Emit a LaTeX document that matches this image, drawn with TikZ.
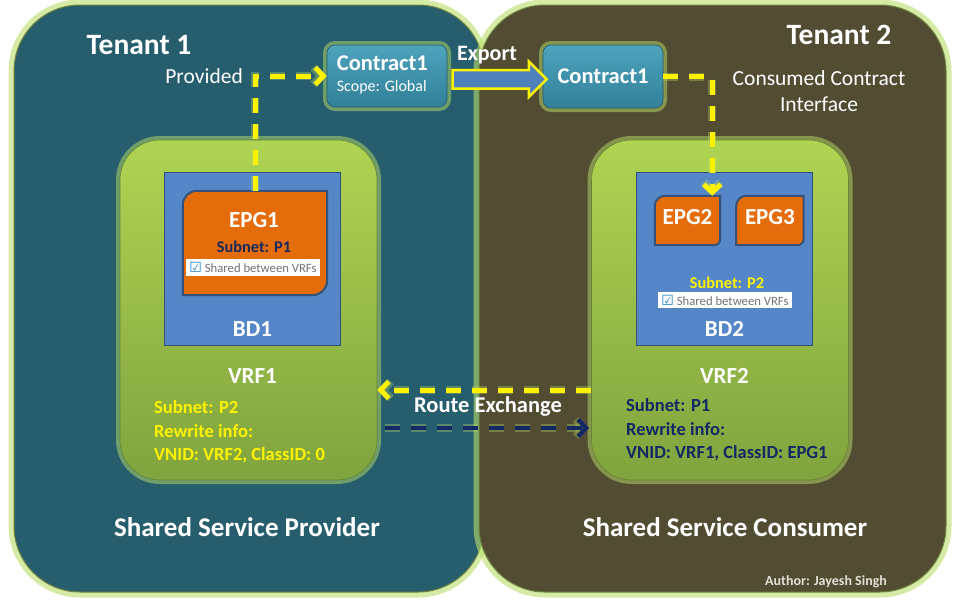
\documentclass[tikz,border=0pt]{standalone}
\usepackage{fontspec}
\setmainfont{Carlito}
\newfontfamily\dvsans{DejaVu Sans}
\usetikzlibrary{shapes,arrows.meta,positioning,calc}
\definecolor{tealbg}{RGB}{39,94,110}
\definecolor{olivebg}{RGB}{81,76,50}
\definecolor{halogreen}{RGB}{185,222,105}
\definecolor{ctop}{RGB}{78,163,189}
\definecolor{cbot}{RGB}{50,128,153}
\definecolor{vrftop}{RGB}{175,212,82}
\definecolor{vrfbot}{RGB}{128,164,62}
\definecolor{bdblue}{RGB}{84,134,200}
\definecolor{epgorange}{RGB}{228,108,10}
\definecolor{epgline}{RGB}{52,82,122}
\definecolor{navytxt}{RGB}{20,40,100}
\definecolor{expblue}{RGB}{79,129,189}
\definecolor{tickblue}{RGB}{30,130,200}
\definecolor{boxgray}{RGB}{115,115,115}
\definecolor{authgray}{RGB}{225,225,215}
\newcommand{\chk}{{\dvsans\fontsize{14}{14}\selectfont\textcolor{tickblue}{☑}}}

\begin{document}
\begin{tikzpicture}[x=1pt, y=-1pt]
    \tikzstyle{halo} = [preaction={draw=halogreen, line width=8pt, opacity=.5}]
    \tikzstyle{tenant} = [draw=halogreen!60!black, line width=1pt, rounded corners=66pt, inner sep=0pt, preaction={draw=halogreen, line width=11pt, opacity=.6}]
    \tikzstyle{vrf} = [rounded corners=40pt, top color=vrftop, bottom color=vrfbot, draw=vrfbot!80!black, line width=.6pt, halo, minimum width=257pt, minimum height=340pt]
    \tikzstyle{bd} = [fill=bdblue, draw=bdblue!60!black, line width=.8pt, minimum width=176pt, minimum height=173pt]
    \tikzstyle{epgframe} = [inner sep=0pt]
    \tikzstyle{epg} = [fill=epgorange, draw=epgline, line width=2pt]
    \tikzstyle{contract} = [rounded corners=8pt, top color=ctop, bottom color=cbot, draw=cbot!70!black, line width=.6pt, halo, text=white, inner sep=4pt]
    \tikzstyle{ttl} = [text=white, font=\fontsize{29.5}{32}\selectfont\bfseries, inner sep=0pt]
    \tikzstyle{foot} = [text=white, font=\fontsize{27}{30}\selectfont\bfseries, inner sep=0pt]
    \tikzstyle{note} = [text=white, font=\fontsize{21.5}{26}\selectfont, inner sep=0pt]
    \tikzstyle{epgtxt} = [text=white, font=\fontsize{23}{25}\selectfont\bfseries, inner sep=0pt]
    \tikzstyle{subtxt} = [font=\fontsize{16.3}{18}\selectfont\bfseries, inner sep=0pt]
    \tikzstyle{shared} = [fill=white, text=boxgray, font=\fontsize{12.7}{14}\selectfont, inner sep=1pt, minimum width=134pt, minimum height=17pt]
    \tikzstyle{vdet} = [font=\fontsize{18.5}{23.5}\selectfont\bfseries, align=left, inner sep=0pt, anchor=west]
    \tikzstyle{ylink} = [draw=yellow, line width=5pt, dash pattern=on 15pt off 11pt, -{Straight Barb[length=8pt,width=17pt]}, preaction={draw=halogreen, line width=8pt, opacity=.35, dash pattern=on 15pt off 11pt}]
    \tikzstyle{nlink} = [draw=navytxt, line width=4.5pt, dash pattern=on 15pt off 11pt, -{Straight Barb[length=8pt,width=17pt]}, preaction={draw=halogreen, line width=8pt, opacity=.35, dash pattern=on 15pt off 11pt}]

    \useasboundingbox (0,0) rectangle (960,600);
    \fill[white] (0,0) rectangle (960,600);

    % tenants
    \node[tenant, fill=tealbg, minimum width=470pt, minimum height=587pt] (t1) at (249,298.5) {};
    \node[tenant, fill=olivebg, minimum width=467pt, minimum height=587pt] (t2) at (712.5,298.5) {};
    \node[ttl] at (139,45) {Tenant 1};
    \node[ttl] at (839,35) {Tenant 2};
    \node[foot] at (247,527) {Shared Service Provider};
    \node[foot] at (725,527) {Shared Service Consumer};
    \node[text=authgray, font=\fontsize{14}{16}\selectfont\bfseries, inner sep=0pt] at (826,582) {Author: Jayesh Singh};

    % vrfs and bridge domains
    \node[vrf] (v1) at (248.5,310) {};
    \node[vrf] (v2) at (720,310) {};
    \node[bd] (b1) at (252.5,258.5) {};
    \node[bd] (b2) at (724.5,258.5) {};
    \node[epgtxt, above=9pt of b1.south] {BD1};
    \node[epgtxt, above=9pt of b2.south] {BD2};
    \node[epgtxt, below=23pt of b1.south] (v1t) {VRF1};
    \node[epgtxt, below=23pt of b2.south] (v2t) {VRF2};
    \node[vdet, text=yellow] (d1) at (154,432) {Subnet: P2\\Rewrite info:\\VNID: VRF2, ClassID: 0};
    \node[vdet, text=navytxt] (d2) at (626,430) {Subnet: P1\\Rewrite info:\\VNID: VRF1, ClassID: EPG1};

    % epgs
    \node[epgframe, minimum width=144pt, minimum height=104pt] (e1) at (255,243) {};
    \draw[epg] (e1.south west) -- ([yshift=-14pt]e1.north west) arc[start angle=180, end angle=90, radius=14pt] -- (e1.north east) -- ([yshift=15pt]e1.south east) arc[start angle=0, end angle=-90, radius=15pt] -- cycle;
    \node[epgtxt] (e1t) at (254,220) {EPG1};
    \node[subtxt, text=navytxt, below=21pt of e1t.center] {Subnet: P1};
    \node[shared] (s1) at (253,267.5) {\chk\ Shared between VRFs};

    \node[epgframe, minimum width=65pt, minimum height=49pt] (e2) at (687.5,220.5) {};
    \node[epgframe, minimum width=67pt, minimum height=49pt, right=16pt of e2] (e3) {};
    \draw[epg] (e2.south west) -- ([yshift=-10pt]e2.north west) arc[start angle=180, end angle=90, radius=10pt] -- (e2.north east) -- ([yshift=6pt]e2.south east) arc[start angle=0, end angle=-90, radius=6pt] -- cycle;
    \draw[epg] (e3.south west) -- ([yshift=-10pt]e3.north west) arc[start angle=180, end angle=90, radius=10pt] -- (e3.north east) -- ([yshift=6pt]e3.south east) arc[start angle=0, end angle=-90, radius=6pt] -- cycle;
    \node[epgtxt] at ([yshift=3pt]e2.center) {EPG2};
    \node[epgtxt] at ([yshift=3pt]e3.center) {EPG3};
    \node[subtxt, text=yellow] at (727,283) {Subnet: P2};
    \node[shared, minimum height=16pt] (s2) at (725,300) {\chk\ Shared between VRFs};

    % contracts
    \node[contract, minimum width=120pt, minimum height=62pt] (c1) at (387,76) {};
    \node[text=white, font=\fontsize{22.5}{24}\selectfont\bfseries, inner sep=0pt, anchor=west] at ([xshift=10pt, yshift=13pt]c1.west) {Contract1};
    \node[text=white, font=\fontsize{16}{18}\selectfont, inner sep=0pt, anchor=west] at ([xshift=10pt, yshift=-11.5pt]c1.west) {Scope: Global};
    \node[contract, minimum width=120pt, minimum height=63pt] (c2) at (603,76.5) {\fontsize{22.5}{24}\selectfont\bfseries Contract1};
    \node[single arrow, fill=expblue, draw=yellow, line width=2.5pt, inner xsep=0pt, inner ysep=8pt, single arrow head extend=8.5pt, minimum width=33pt, minimum height=94pt] (exp) at ($(c1.east)!.5!(c2.west)+(0,3)$) {};
    \node[note, font=\fontsize{22}{24}\selectfont\bfseries] at (487,55) {Export};

    % links
    \coordinate (pc) at (e1.north |- c1.west);
    \draw[ylink] (e1.north) -- (pc) -- (c1.west);
    \node[note, left=12pt of pc] {Provided};
    \draw[ylink] (c2.east) -| ([xshift=-8pt]e2.north east);
    \node[note, align=center] at (819,91) {Consumed Contract\\Interface};

    \draw[ylink] ($(v2.west)+(0,80)$) -- ($(v1.east)+(0,80)$);
    \draw[nlink] ($(v1.east)+(8,118)$) -- ($(v2.west)+(-2,118)$);
    \node[note, font=\fontsize{22.5}{24}\selectfont\bfseries] at (488,407) {Route Exchange};
\end{tikzpicture}
\end{document}
